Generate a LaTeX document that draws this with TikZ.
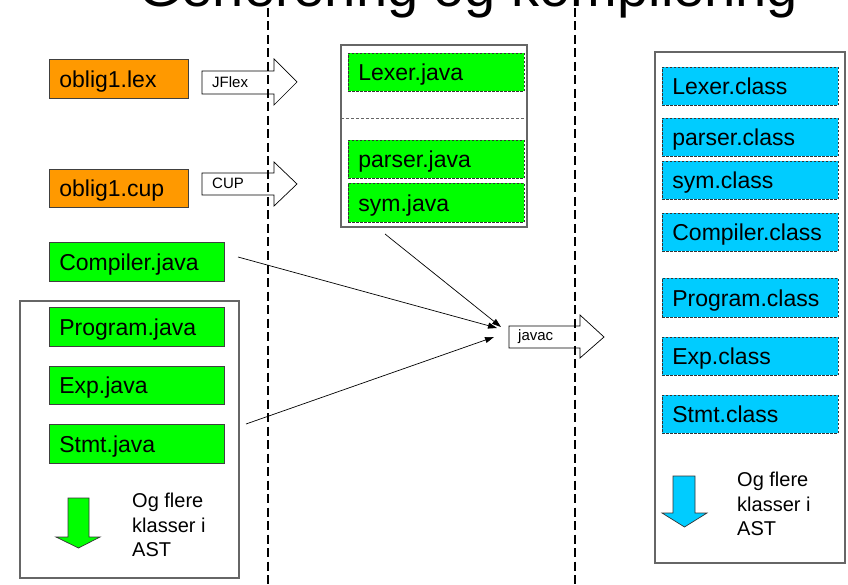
\documentclass[tikz,border=0pt]{standalone}
\usepackage{fontspec}
\setmainfont{Liberation Sans}
\usetikzlibrary{arrows.meta}
\definecolor{orng}{HTML}{FF9900}
\definecolor{grn}{HTML}{00FF00}
\definecolor{blu}{HTML}{00CCFF}
\begin{document}
\begin{tikzpicture}[x=1pt,y=-1pt,
  filebox/.style={anchor=north west, inner ysep=0pt, inner xsep=10pt, align=left,
    text height=16.5pt, text depth=0pt, font=\fontsize{23}{27}\selectfont, line width=0.7pt},
  solidbox/.style={filebox, draw=black!75},
  dashbox/.style={filebox, draw=black!80, dash pattern=on 2.5pt off 1.5pt},
  container/.style={draw=black!60, line width=1.2pt},
  blockarrow/.style={draw=black, line width=0.7pt, fill=white},
  smalllabel/.style={anchor=west, inner sep=0pt, font=\fontsize{15}{18}\selectfont},
  moretext/.style={anchor=north west, inner sep=0pt, align=left, font=\fontsize{20}{24.5}\selectfont},
  divider/.style={draw=black, line width=1.6pt, dash pattern=on 9pt off 4.5pt},
  conn/.style={draw=black, line width=0.7pt, -{Triangle[length=9pt,width=6pt]}}
]
\useasboundingbox (0,0) rectangle (848,585);

% title
\node[anchor=base west, inner sep=0pt, font=\fontsize{56}{60}\selectfont] (title) at (138,7) {Generering og kompilering};

% containers
\draw[container] (341,45) rectangle (527,227);
\draw[black!60, line width=0.7pt, dash pattern=on 3pt off 2pt] (341,118) -- (527,118);
\draw[container] (20,301) rectangle (239,578);
\draw[container] (655,52) rectangle (845,563);

% left column
\node[solidbox, fill=orng, text width=119pt, minimum height=39pt] (lex) at (49,59) {oblig1.lex};
\node[solidbox, fill=orng, text width=119pt, minimum height=38pt] (cup) at (49,169) {oblig1.cup};
\node[solidbox, fill=grn, text width=155pt, minimum height=39pt] (comp) at (49,242) {Compiler.java};
\node[solidbox, fill=grn, text width=155pt, minimum height=39pt] (prog) at (49,307) {Program.java};
\node[solidbox, fill=grn, text width=155pt, minimum height=38pt] (exp) at (49,366) {Exp.java};
\node[solidbox, fill=grn, text width=155pt, minimum height=39pt] (stmt) at (49,424) {Stmt.java};

\draw[draw=black!80, line width=0.7pt, fill=grn] (68,498) -- (89,498) -- (89,537) -- (100,537) -- (78.5,548) -- (56,537) -- (68,537) -- cycle;
\node[moretext] (moreL) at (132,493) {Og flere\\klasser i\\AST};

% middle column
\node[dashbox, fill=grn, text width=156pt, minimum height=38pt] (lexj) at (348,53) {Lexer.java};
\node[dashbox, fill=grn, text width=156pt, minimum height=38pt] (parj) at (348,140) {parser.java};
\node[dashbox, fill=grn, text width=156pt, minimum height=39pt] (symj) at (348,183) {sym.java};

% right column
\node[dashbox, fill=blu, text width=156pt, minimum height=38pt] (lexc) at (662,67) {Lexer.class};
\node[dashbox, fill=blu, text width=156pt, minimum height=38pt] (parc) at (662,118) {parser.class};
\node[dashbox, fill=blu, text width=156pt, minimum height=38pt] (symc) at (662,161) {sym.class};
\node[dashbox, fill=blu, text width=156pt, minimum height=38pt] (compc) at (662,213) {Compiler.class};
\node[dashbox, fill=blu, text width=156pt, minimum height=39pt] (progc) at (662,278) {Program.class};
\node[dashbox, fill=blu, text width=156pt, minimum height=38pt] (expc) at (662,337) {Exp.class};
\node[dashbox, fill=blu, text width=156pt, minimum height=38pt] (stmtc) at (662,395) {Stmt.class};

\draw[draw=black!80, line width=0.7pt, fill=blu] (673,476) -- (695,476) -- (695,513) -- (707,513) -- (684.5,527) -- (662,513) -- (673,513) -- cycle;
\node[moretext] (moreR) at (737,472) {Og flere\\klasser i\\AST};

% block arrows
\draw[blockarrow] (202,71) -- (274,71) -- (274,59) -- (297,82) -- (274,105) -- (274,94) -- (202,94) -- cycle;
\node[smalllabel] (jflex) at (212,82.5) {JFlex};
\draw[blockarrow] (202,173) -- (274,173) -- (274,162) -- (297,184) -- (274,206) -- (274,195) -- (202,195) -- cycle;
\node[smalllabel] (cuplbl) at (212,183) {CUP};
\draw[blockarrow] (509,326) -- (580,326) -- (580,315) -- (604,337) -- (580,358) -- (580,348) -- (509,348) -- cycle;
\node[smalllabel] (javac) at (518,337) {javac};

% connectors into javac
\coordinate (compOut) at (238,257);
\coordinate (midOut) at (385,234);
\coordinate (stmtOut) at (246,424);
\coordinate (in1) at (497,328);
\coordinate (in2) at (501,327);
\coordinate (in3) at (494,337);
\draw[conn] (compOut) -- (in1);
\draw[conn] (midOut) -- (in2);
\draw[conn] (stmtOut) -- (in3);

% phase dividers
\draw[divider] (268,8) -- (268,585);
\draw[divider] (575,8) -- (575,585);
\end{tikzpicture}
\end{document}
